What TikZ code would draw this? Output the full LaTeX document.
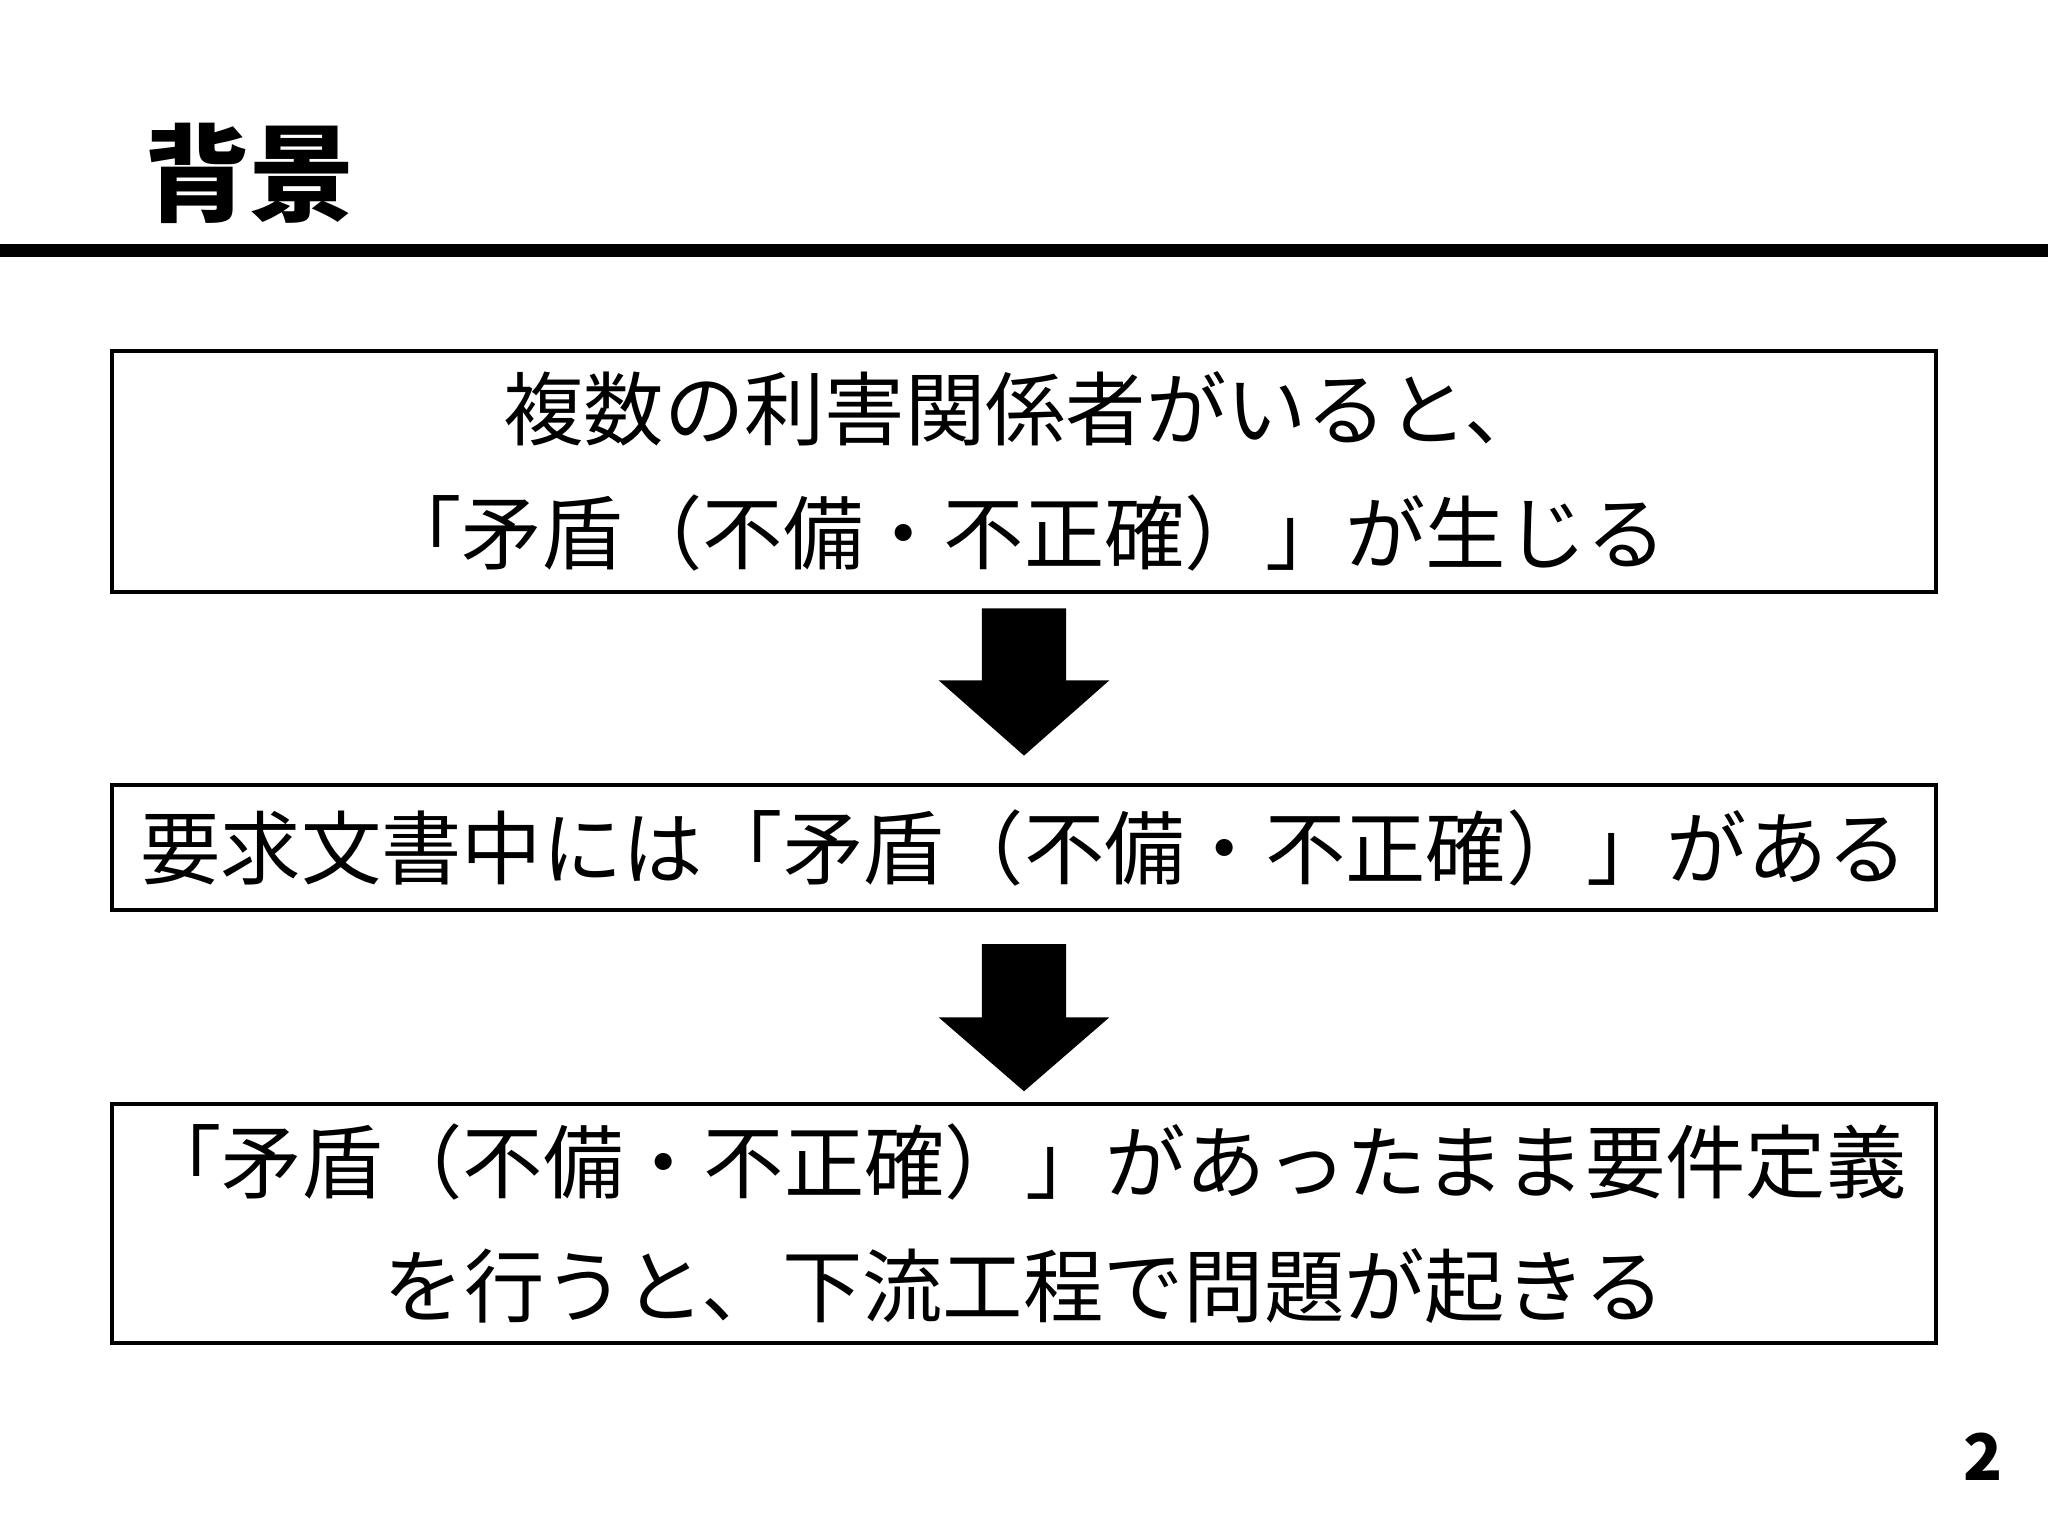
\documentclass[tikz,border=0pt]{standalone}
\usepackage{fontspec}
\setmainfont{Noto Sans CJK JP}
\usepackage{tikz}
\usetikzlibrary{calc,positioning}

\tikzset{
  box/.style={draw, line width=0.9pt, minimum width=13.96cm, inner sep=0pt, align=center,
    font=\fontsize{17.5}{27}\selectfont},
  downarrow/.style={fill=black, draw=black}
}

\begin{document}
\begin{tikzpicture}[x=1cm, y=1cm]
\useasboundingbox (0,0) rectangle (15.68,-11.76);

%title
\node [anchor=west, font=\fontsize{23}{28}\selectfont\bfseries] (title) at (0.98,-1.33) {背景};
\fill (0,-1.87) rectangle (15.68,-1.97);

%boxes
\node [box, minimum height=1.84cm] (1) at (7.84,-3.61) {複数の利害関係者がいると、\\「矛盾（不備・不正確）」が生じる};
\node [box, minimum height=0.96cm] (2) at (7.84,-6.49) {要求文書中には「矛盾（不備・不正確）」がある};
\node [box, minimum height=1.83cm] (3) at (7.84,-9.365) {「矛盾（不備・不正確）」があったまま要件定義\\を行うと、下流工程で問題が起きる};

%arrows
\fill [downarrow] ($(1.south)+(-0.315,-0.12)$) -- ++(0.63,0) -- ++(0,-0.55) -- ++(0.32,0)
  -- ($(1.south)+(0,-1.23)$) -- ($(1.south)+(-0.635,-0.67)$) -- ++(0.32,0) -- cycle;
\fill [downarrow] ($(2.south)+(-0.315,-0.25)$) -- ++(0.63,0) -- ++(0,-0.56) -- ++(0.32,0)
  -- ($(2.south)+(0,-1.36)$) -- ($(2.south)+(-0.635,-0.81)$) -- ++(0.32,0) -- cycle;

%page number
\node [font=\fontsize{14}{16}\selectfont\bfseries] (page) at (15.18,-11.15) {2};

\end{tikzpicture}
\end{document}
